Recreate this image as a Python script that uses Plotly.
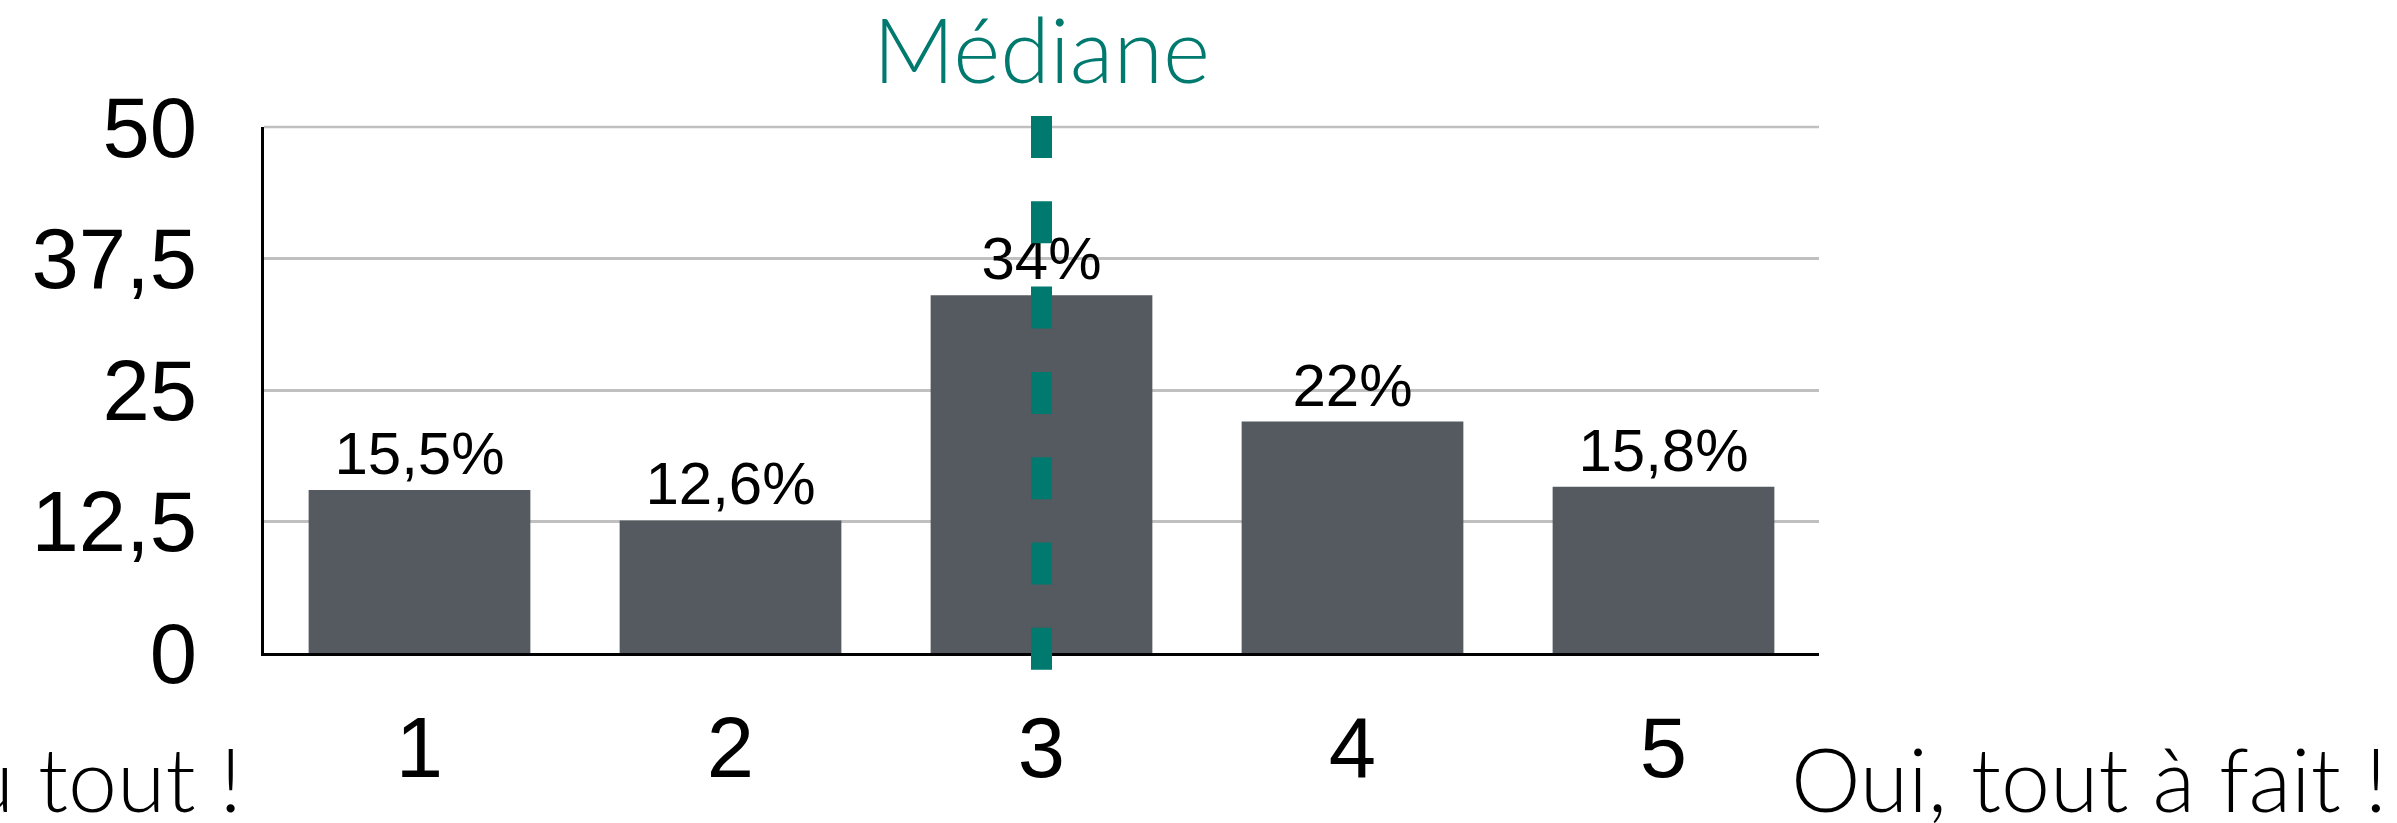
import plotly.graph_objects as go

categories = ["1", "2", "3", "4", "5"]
values = [15.5, 12.6, 34.0, 22.0, 15.8]
value_labels = ["15,5%", "12,6%", "34%", "22%", "15,8%"]
y_ticks = [0, 12.5, 25, 37.5, 50]
y_tick_labels = ["0", "12,5", "25", "37,5", "50"]
left_label = "Pas du tout !"
right_label = "Oui, tout à fait !"
median_label = "Médiane"

BAR = "#555a61"
TEAL = "#00796f"
GRID = "#c0c0c0"
TICKFONT = "Liberation Sans, Arial, sans-serif"
GEOFONT = "Lato, sans-serif"

# median category from the cumulative distribution
total = sum(values)
cum = 0
median_idx = 0
for i, v in enumerate(values):
    cum += v
    if cum >= total / 2:
        median_idx = i
        break
median_x = (median_idx + 0.5) / len(categories)

fig = go.Figure()
fig.add_trace(go.Bar(
    x=categories, y=values, marker=dict(color=BAR, line=dict(width=0)),
    text=value_labels, textposition="outside", cliponaxis=False,
    textfont=dict(family=TICKFONT, size=60, color="black"),
    hoverinfo="skip",
))

W, H = 2397, 823
ml, mr, mt, mb = 264, 578, 127, 170
ph = H - mt - mb
y_max = y_ticks[-1]

fig.update_layout(
    width=W, height=H,
    margin=dict(l=ml, r=mr, t=mt, b=mb, autoexpand=False),
    paper_bgcolor="white", plot_bgcolor="white",
    bargap=0.287, showlegend=False,
    xaxis=dict(
        type="category", range=[-0.5, 4.5], automargin=False,
        showline=True, linecolor="black", linewidth=3,
        showgrid=False, ticks="", ticklabelstandoff=19,
        tickfont=dict(family=TICKFONT, size=85, color="black"),
    ),
    yaxis=dict(
        range=[0, y_max], tickvals=y_ticks, ticktext=y_tick_labels, automargin=False,
        showline=True, linecolor="black", linewidth=3,
        showgrid=True, gridcolor=GRID, gridwidth=2.5,
        zeroline=False, ticks="", ticklabelstandoff=47,
        tickfont=dict(family=TICKFONT, size=85, color="black"),
    ),
    shapes=[
        # top gridline (plotly drops the grid line sitting on the range edge)
        dict(type="line", xref="x domain", yref="y domain",
             x0=0, x1=1, y0=1, y1=1,
             line=dict(color=GRID, width=2.5), layer="below"),
        dict(
            type="line", xref="x domain", yref="y domain",
            x0=median_x, x1=median_x,
            y0=(mt + ph - 116) / ph, y1=(mt + ph - 670) / ph,
            line=dict(color=TEAL, width=21, dash="42px,43.3px"),
            layer="above",
        ),
    ],
    annotations=[
        dict(text=median_label, xref="x domain", yref="paper",
             x=median_x, y=1.0 + (mt - 48) / ph, xanchor="center", yanchor="middle",
             showarrow=False, font=dict(family=GEOFONT, size=90, weight=300, color=TEAL)),
        dict(text=left_label, xref="paper", yref="paper",
             x=(244 - ml) / (W - ml - mr), y=-(778 - (H - mb)) / ph,
             xanchor="right", yanchor="middle",
             showarrow=False, font=dict(family=GEOFONT, size=88, weight=300, color="black")),
        dict(text=right_label, xref="paper", yref="paper",
             x=(1789 - ml) / (W - ml - mr), y=-(778 - (H - mb)) / ph,
             xanchor="left", yanchor="middle",
             showarrow=False, font=dict(family=GEOFONT, size=88, weight=300, color="black")),
    ],
)

fig.write_html("out.html", config={"displayModeBar": False},
               post_script="document.body.style.margin='0px';")
